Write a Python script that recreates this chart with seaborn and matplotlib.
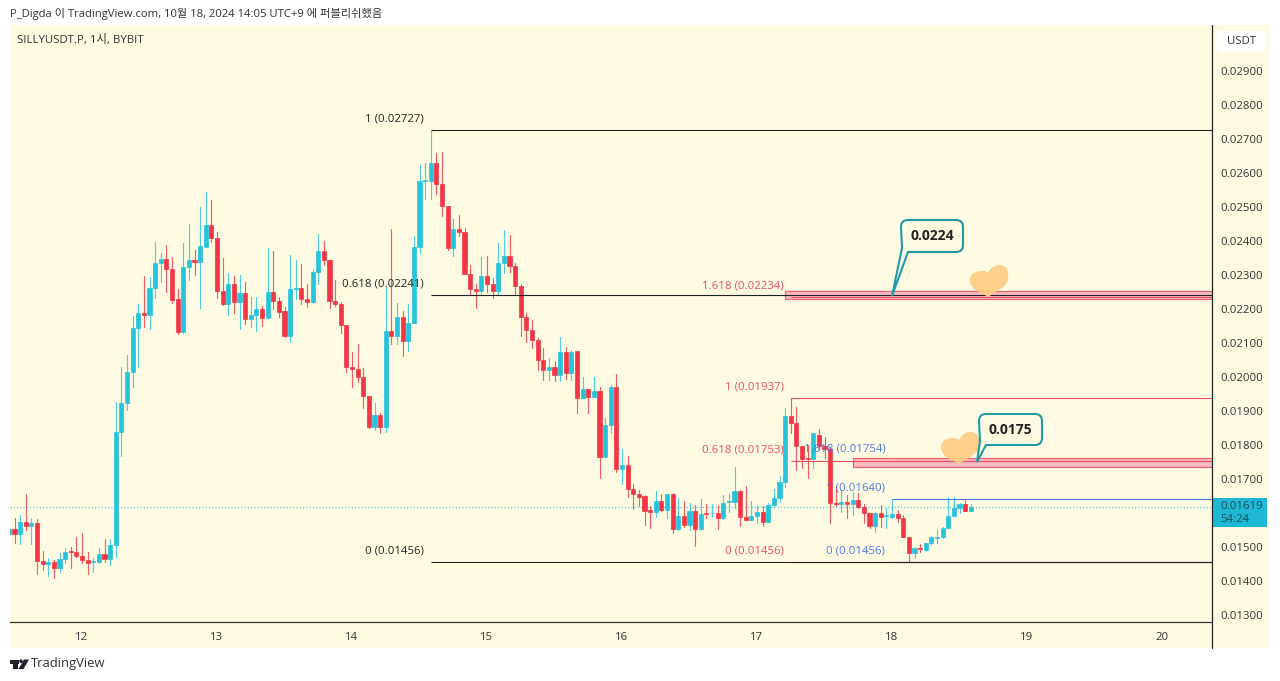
"""
SILLYUSDT.P 1h candles with fib levels, TradingView snapshot style
"""
import numpy as np
import pandas as pd
import matplotlib
matplotlib.use("Agg")
import matplotlib.pyplot as plt
import matplotlib.transforms as mtransforms
from matplotlib.patches import FancyBboxPatch, PathPatch, Rectangle
from matplotlib.path import Path
import seaborn as sns

# hours since the 12th 00:00, prices in 1e-5 USDT
first_hour = -13

opens = [
    1538, 1552, 1538, 1574, 1563, 1570, 1460, 1450, 1457, 1439,
    1465, 1488, 1484, 1474, 1462, 1456, 1456, 1479, 1464, 1506,
    1837, 1925, 2016, 2144, 2188, 2182, 2261, 2336, 2346, 2317,
    2228, 2133, 2323, 2344, 2338, 2383, 2447, 2410, 2254, 2215,
    2273, 2220, 2248, 2170, 2182, 2200, 2173, 2249, 2224, 2194,
    2121, 2259, 2263, 2228, 2220, 2309, 2372, 2344, 2224, 2215,
    2153, 2028, 2023, 2001, 1944, 1852, 1887, 1854, 2135, 2122,
    2177, 2107, 2160, 2383, 2577, 2577, 2630, 2568, 2503, 2378,
    2435, 2427, 2303, 2259, 2253, 2296, 2273, 2253, 2334, 2356,
    2327, 2269, 2177, 2138, 2109, 2050, 2021, 2028, 2006, 2075,
    2013, 2075, 1939, 1964, 1940, 1959, 1766, 1860, 1972, 1729,
    1741, 1671, 1657, 1650, 1608, 1604, 1634, 1608, 1657, 1552,
    1591, 1564, 1607, 1552, 1600, 1599, 1599, 1584, 1631, 1633,
    1666, 1589, 1579, 1592, 1603, 1575, 1624, 1645, 1690, 1885,
    1866, 1797, 1761, 1758, 1829, 1798, 1787, 1628, 1626, 1633,
    1626, 1638, 1617, 1601, 1562, 1599, 1592, 1589, 1596, 1586,
    1530, 1481, 1498, 1491, 1511, 1527, 1528, 1555, 1591, 1614,
    1625, 1607,
]
highs = [
    1555, 1584, 1594, 1656, 1584, 1581, 1489, 1467, 1462, 1483,
    1498, 1501, 1528, 1542, 1484, 1469, 1496, 1525, 1524, 1927,
    2030, 2065, 2179, 2215, 2297, 2295, 2398, 2364, 2388, 2354,
    2258, 2395, 2449, 2374, 2499, 2543, 2521, 2427, 2349, 2305,
    2297, 2300, 2280, 2236, 2236, 2210, 2378, 2372, 2236, 2207,
    2359, 2344, 2332, 2274, 2317, 2420, 2400, 2344, 2285, 2222,
    2153, 2073, 2097, 2026, 1944, 1923, 1895, 2266, 2434, 2219,
    2194, 2215, 2415, 2624, 2628, 2727, 2658, 2661, 2503, 2465,
    2476, 2437, 2329, 2275, 2354, 2357, 2290, 2395, 2432, 2418,
    2334, 2275, 2187, 2168, 2114, 2084, 2055, 2048, 2119, 2087,
    2080, 2075, 2001, 1964, 2001, 1972, 1879, 1977, 2009, 1787,
    1769, 1684, 1668, 1653, 1622, 1665, 1656, 1657, 1658, 1643,
    1635, 1630, 1624, 1640, 1627, 1627, 1624, 1653, 1656, 1736,
    1668, 1678, 1635, 1624, 1622, 1629, 1670, 1709, 1908, 1937,
    1913, 1797, 1800, 1836, 1846, 1825, 1790, 1679, 1668, 1653,
    1663, 1658, 1626, 1601, 1602, 1624, 1614, 1640, 1609, 1594,
    1530, 1501, 1509, 1513, 1532, 1550, 1560, 1648, 1646, 1630,
    1640, 1626,
]
lows = [
    1528, 1513, 1508, 1550, 1508, 1422, 1432, 1416, 1408, 1427,
    1452, 1437, 1472, 1454, 1421, 1427, 1454, 1457, 1447, 1472,
    1768, 1903, 1970, 2030, 2148, 2141, 2231, 2280, 2249, 2217,
    2126, 2128, 2285, 2300, 2202, 2383, 2396, 2231, 2212, 2182,
    2187, 2141, 2156, 2148, 2136, 2151, 2173, 2199, 2177, 2117,
    2102, 2228, 2214, 2207, 2217, 2275, 2329, 2202, 2209, 2128,
    2016, 1972, 1986, 1908, 1849, 1844, 1834, 1839, 2097, 2097,
    2063, 2077, 2160, 2364, 2525, 2525, 2538, 2474, 2375, 2357,
    2415, 2303, 2241, 2202, 2244, 2251, 2233, 2244, 2305, 2310,
    2241, 2121, 2104, 2086, 2021, 1991, 1991, 1989, 1989, 1994,
    1991, 1893, 1937, 1893, 1940, 1704, 1764, 1834, 1722, 1684,
    1646, 1612, 1622, 1565, 1557, 1589, 1607, 1586, 1540, 1550,
    1560, 1550, 1504, 1550, 1584, 1587, 1552, 1582, 1604, 1614,
    1562, 1579, 1579, 1570, 1562, 1575, 1619, 1633, 1677, 1836,
    1727, 1731, 1702, 1731, 1785, 1761, 1572, 1621, 1602, 1586,
    1594, 1614, 1570, 1555, 1545, 1560, 1555, 1584, 1575, 1528,
    1456, 1467, 1484, 1489, 1506, 1511, 1526, 1555, 1591, 1599,
    1606, 1606,
]
closes = [
    1552, 1538, 1574, 1562, 1570, 1460, 1450, 1457, 1439, 1465,
    1486, 1484, 1474, 1462, 1454, 1459, 1479, 1464, 1506, 1837,
    1925, 2016, 2144, 2187, 2182, 2261, 2336, 2346, 2317, 2226,
    2133, 2323, 2344, 2338, 2385, 2447, 2410, 2254, 2215, 2273,
    2220, 2248, 2170, 2182, 2199, 2173, 2249, 2224, 2192, 2121,
    2258, 2263, 2228, 2220, 2309, 2372, 2344, 2224, 2215, 2153,
    2028, 2023, 2001, 1944, 1852, 1887, 1854, 2135, 2122, 2177,
    2107, 2160, 2383, 2577, 2579, 2630, 2568, 2503, 2378, 2435,
    2427, 2303, 2259, 2253, 2296, 2273, 2253, 2334, 2356, 2327,
    2269, 2177, 2138, 2109, 2050, 2021, 2028, 2006, 2075, 2013,
    2075, 1939, 1964, 1942, 1959, 1766, 1860, 1972, 1729, 1741,
    1671, 1657, 1648, 1606, 1604, 1634, 1608, 1657, 1552, 1591,
    1564, 1607, 1553, 1597, 1598, 1601, 1584, 1630, 1635, 1666,
    1589, 1579, 1592, 1603, 1575, 1624, 1645, 1690, 1885, 1866,
    1797, 1759, 1758, 1834, 1798, 1788, 1628, 1625, 1633, 1626,
    1638, 1617, 1601, 1562, 1599, 1589, 1594, 1596, 1586, 1530,
    1481, 1498, 1493, 1511, 1528, 1530, 1555, 1591, 1614, 1626,
    1607, 1619,
]

day_ticks = [0, 24, 48, 72, 96, 120, 144, 168, 192]
day_labels = ["12", "13", "14", "15", "16", "17", "18", "19", "20"]
# 0.01600 sits behind the last price tag, so it is not labelled
price_ticks = [2900, 2800, 2700, 2600, 2500, 2400, 2300, 2200, 2100,
               2000, 1900, 1800, 1700, 1500, 1400, 1300]

# level, start hour, label
black_fib = [(2727, 62, "1 (0.02727)"), (2241, 62, "0.618 (0.02241)"), (1456, 62, "0 (0.01456)")]
red_fib = [(1937, 126, "1 (0.01937)"), (1753, 126, "0.618 (0.01753)"), (1456, 126, "0 (0.01456)"),
           (2234, 126, "1.618 (0.02234)")]
blue_fib = [(1754, 144, "1.618 (0.01754)"), (1640, 144, "1 (0.01640)"), (1456, 144, "0 (0.01456)")]
last_price = 1619

UP = "#26C3DC"
DOWN = "#F23645"
CREAM = "#FFFBE3"
RED_FIB = "#E94F5E"
BLUE_FIB = "#4C78DC"
TEAL = "#1F9AA6"
HEART = "#FFCD85"
TEXT = "#333333"
LEFT_PX, RIGHT_PX, TOP_PX, BOTTOM_PX = 9.5, 1212, 25, 622
HOUR_PX = 5.625
X0_PX = 82

sns.set_style("white")
plt.rcParams["font.family"] = ["Open Sans", "Noto Sans CJK KR", "DejaVu Sans"]

fig = plt.figure(figsize=(12.8, 6.81), dpi=100, facecolor="white")
ax = fig.add_axes([LEFT_PX / 1280, 1 - BOTTOM_PX / 681,
                   (RIGHT_PX - LEFT_PX) / 1280, (BOTTOM_PX - TOP_PX) / 681])
ax.patch.set_visible(False)

# pixel coordinates measured from the top left, for the drawn annotations
px = mtransforms.Affine2D().scale(1, -1).translate(0, 681)

fig.add_artist(Rectangle((LEFT_PX, TOP_PX), 1270 - LEFT_PX, 648 - TOP_PX, transform=px,
                         facecolor=CREAM, edgecolor="none", zorder=-5))

df = pd.DataFrame({"open": opens, "high": highs, "low": lows, "close": closes})
df["hour"] = first_hour + np.arange(len(df))
df["dir"] = np.where(df["close"] >= df["open"], "up", "down")
palette = {"up": UP, "down": DOWN}

wicks = df.melt(id_vars=["hour", "dir"], value_vars=["high", "low"], value_name="price")
sns.lineplot(data=wicks, x="hour", y="price", hue="dir", units="hour", estimator=None,
             palette=palette, linewidth=0.85, alpha=0.8, legend=False, sort=False, ax=ax, zorder=2)

body_low = df[["open", "close"]].min(axis=1)
body_high = df[["open", "close"]].max(axis=1)
ax.bar(df["hour"], body_high - body_low, bottom=body_low, width=0.72,
       color=df["dir"].map(palette), edgecolor=df["dir"].map(palette), linewidth=0.5, zorder=3)

# supply boxes
box_x = [(785 - X0_PX) / HOUR_PX, (853 - X0_PX) / HOUR_PX]
for start, low, high in [(box_x[0], 2229, 2253), (box_x[1], 1735, 1762)]:
    ax.add_patch(Rectangle((start, low), 210 - start, high - low, facecolor="#F9B0BA",
                           edgecolor="#E8505F", linewidth=0.9, alpha=0.85, zorder=4))

# black goes last, it covers the other two at the shared 0 level
for levels, color in [(blue_fib, BLUE_FIB), (red_fib, RED_FIB), (black_fib, "#222222")]:
    for level, start, label in levels:
        ax.hlines(level, start, 210, color=color, linewidth=0.8, zorder=5)
        ax.text(start - 1.2, level + 33, label, color=color, fontsize=8.2, ha="right", va="center", zorder=6)

ax.axhline(last_price, color=UP, linewidth=0.9, linestyle=(0, (1, 1.6)), alpha=0.8, zorder=1)

ax.set_xlim((LEFT_PX - X0_PX) / HOUR_PX, (RIGHT_PX - X0_PX) / HOUR_PX)
ax.set_ylim(2900 - (BOTTOM_PX - 71) * 100 / 34, 2900 + (71 - TOP_PX) * 100 / 34)
ax.set_xticks(day_ticks, day_labels)
ax.yaxis.tick_right()
ax.set_yticks(price_ticks, [f"0.0{p}" for p in price_ticks])
ax.tick_params(axis="x", length=0, pad=7, labelsize=8.2, labelcolor=TEXT)
ax.tick_params(axis="y", length=0, pad=5.8, labelsize=8.2, labelcolor=TEXT)
ax.set_xlabel("")
ax.set_ylabel("")
sns.despine(ax=ax, left=True, top=True, right=True, bottom=False)
ax.spines["bottom"].set_color("#333333")
ax.spines["bottom"].set_linewidth(0.9)
ax.grid(False)

# price axis border runs down through the time axis
fig.add_artist(plt.Line2D([RIGHT_PX, RIGHT_PX], [TOP_PX, 648], transform=px, color="#222222", linewidth=0.9))

# USDT chip and last price tag
fig.add_artist(FancyBboxPatch((1218, 32), 46, 19, boxstyle="round,pad=0,rounding_size=3", transform=px,
                              facecolor="white", edgecolor="white", linewidth=2))
fig.text(1241 / 1280, 1 - 41.5 / 681, "USDT", fontsize=8.2, color=TEXT, ha="center", va="center")
fig.add_artist(Rectangle((1213, 498), 54, 29, transform=px, facecolor="#1FB8D4", edgecolor="none"))
fig.text(1220 / 1280, 1 - 506.5 / 681, "0.0" + str(last_price), fontsize=8.2, color="#17505F", va="center")
fig.text(1220 / 1280, 1 - 520 / 681, "54:24", fontsize=8.2, color="#17505F", va="center")


def callout(x0, y0, x1, y1, tip, label):
    """Rounded speech bubble, pointer leaves from the lower left corner"""
    r = 7
    verts = [(x0 + r, y0), (x1 - r, y0), (x1, y0), (x1, y0 + r), (x1, y1 - r), (x1, y1), (x1 - r, y1),
             (x0 + 7, y1), tip, (x0 + 1, y1 - 4), (x0, y0 + r), (x0, y0), (x0 + r, y0)]
    codes = [Path.MOVETO, Path.LINETO, Path.CURVE3, Path.CURVE3, Path.LINETO, Path.CURVE3, Path.CURVE3,
             Path.LINETO, Path.LINETO, Path.LINETO, Path.LINETO, Path.CURVE3, Path.CURVE3]
    fig.add_artist(PathPatch(Path(verts, codes), transform=px, facecolor=CREAM, edgecolor=TEAL,
                             linewidth=1.5, zorder=8))
    fig.text((x0 + x1) / 2 / 1280, 1 - (y0 + y1) / 2 / 681, label, fontsize=10, fontweight="bold",
             color="#222222", ha="center", va="center", zorder=9)


callout(901, 220, 963, 252, (892, 296), "0.0224")
callout(979, 414, 1042, 445, (977, 462), "0.0175")


def heart(cx, cy):
    """Blobby hand-drawn heart, right lobe sits a bit higher"""
    verts = [(cx - 1, cy + 16), (cx - 6, cy + 12), (cx - 19, cy + 10), (cx - 19, cy - 1),
             (cx - 19, cy - 9), (cx - 11, cy - 10), (cx - 6, cy - 10),
             (cx - 3, cy - 10), (cx - 2, cy - 9), (cx - 1, cy - 8),
             (cx + 2, cy - 15), (cx + 8, cy - 16), (cx + 11, cy - 16),
             (cx + 19, cy - 16), (cx + 20, cy - 7), (cx + 19, cy - 2),
             (cx + 18, cy + 6), (cx + 8, cy + 10), (cx - 1, cy + 16)]
    codes = [Path.MOVETO] + [Path.CURVE4] * 18
    fig.add_artist(PathPatch(Path(verts, codes), transform=px, facecolor=HEART, edgecolor="none",
                             alpha=0.92, zorder=7))


heart(989, 281)
heart(960, 448)

fig.text(10 / 1280, 1 - 14 / 681, "P_Digda 이 TradingView.com, 10월 18, 2024 14:05 UTC+9 에 퍼블리쉬했음",
         fontsize=8.1, color=TEXT, va="center")
fig.text(17 / 1280, 1 - 40 / 681, "SILLYUSDT.P, 1시, BYBIT", fontsize=8.2, color=TEXT, va="center")

# TradingView mark
MARK = "#1E222D"
fig.add_artist(Rectangle((9.5, 659.5), 9, 4, transform=px, facecolor=MARK, edgecolor="none"))
fig.add_artist(Rectangle((13, 659.5), 4.5, 9.5, transform=px, facecolor=MARK, edgecolor="none"))
fig.add_artist(plt.Circle((21, 661.2), 1.8, transform=px, facecolor=MARK, edgecolor="none"))
fig.add_artist(plt.Polygon([(24, 659.5), (29, 659.5), (23.5, 669), (18.5, 669)], transform=px,
                           facecolor=MARK, edgecolor="none"))
fig.text(31 / 1280, 1 - 664 / 681, "TradingView", fontsize=9.4, color="#333333", va="center")

fig.savefig("out.png", dpi=100)
